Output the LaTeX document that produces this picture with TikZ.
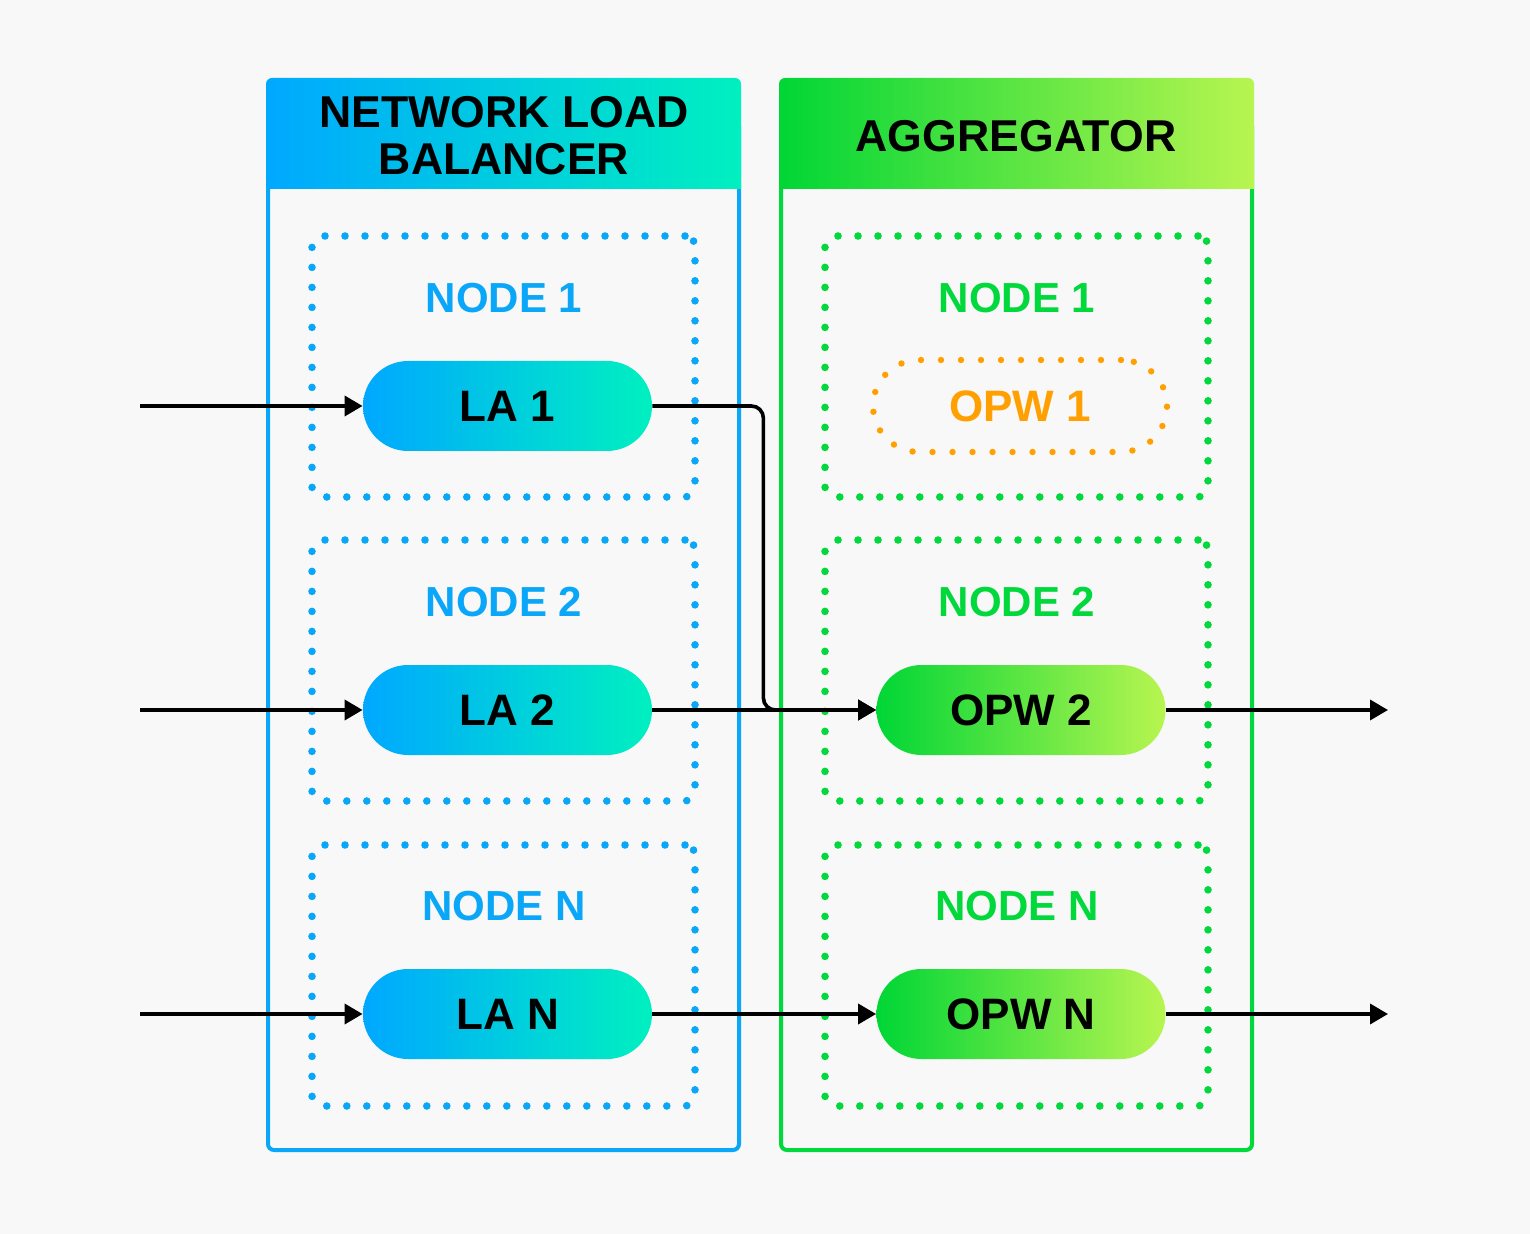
\documentclass[tikz,border=0pt]{standalone}
\usepackage{fontspec}
\setmainfont{Liberation Sans}
\usetikzlibrary{arrows.meta}
\definecolor{bgc}{HTML}{F8F8F8}
\definecolor{lbblue}{HTML}{0AA6F8}
\definecolor{aggreen}{HTML}{00D83C}
\definecolor{opworange}{HTML}{FFA000}
\definecolor{bluel}{HTML}{00A8FF}
\definecolor{bluer}{HTML}{00F0C0}
\definecolor{greenl}{HTML}{00D636}
\definecolor{greenr}{HTML}{B8F550}
\tikzset{
  frame/.style={line width=2pt, rounded corners=3pt},
  dotbox/.style={draw=#1, line width=3.8pt, line cap=round, dash pattern=on 0pt off 10pt,
    rounded corners=5pt, minimum width=191.5pt, minimum height=130.5pt, inner sep=0pt},
  nodelabel/.style={text=#1, font=\fontsize{21}{24}\selectfont\bfseries},
  pillbase/.style={rectangle, rounded corners=22.5pt, minimum width=144.5pt, minimum height=45pt,
    inner sep=0pt, font=\fontsize{22}{26}\selectfont\bfseries, text=black},
  lapill/.style={pillbase, left color=bluel, right color=bluer},
  opwpill/.style={pillbase, left color=greenl, right color=greenr},
  header/.style={font=\fontsize{22.3}{23.5}\selectfont\bfseries, align=center, text=black},
  arr/.style={line width=1.8pt, -{Triangle[length=9pt,width=10pt]}},
}
\begin{document}
\begin{tikzpicture}[x=0.5pt,y=-0.5pt]
\fill[bgc] (0,0) rectangle (1530,1234);
\useasboundingbox (0,0) rectangle (1530,1234);

% Network load balancer container
\draw[lbblue, frame] (268,120) rectangle (739,1150);
\shade[left color=bluel, right color=bluer] (266,189) [rounded corners=3pt] -- (266,78) -- (741,78) [sharp corners] -- (741,189) -- cycle;
\node[header] (nlb) at (504,136) {NETWORK LOAD\\BALANCER};

% Aggregator container
\draw[aggreen, frame] (781,120) rectangle (1252,1150);
\shade[left color=greenl, right color=greenr] (779,189) [rounded corners=3pt] -- (779,78) -- (1254,78) [sharp corners] -- (1254,189) -- cycle;
\node[header] (agg) at (1016,136) {AGGREGATOR};

% dotted node boxes
\node[dotbox=lbblue] (lbn1) at (503.5,366.5) {};
\node[dotbox=lbblue] (lbn2) at (503.5,670.5) {};
\node[dotbox=lbblue] (lbn3) at (503.5,975.5) {};
\node[dotbox=aggreen] (agn1) at (1016.5,366.5) {};
\node[dotbox=aggreen] (agn2) at (1016.5,670.5) {};
\node[dotbox=aggreen] (agn3) at (1016.5,975.5) {};

% node labels
\node[nodelabel=lbblue] (lbl1) at (504,298) {NODE 1};
\node[nodelabel=lbblue] (lbl2) at (504,602) {NODE 2};
\node[nodelabel=lbblue] (lbl3) at (504,906) {NODE N};
\node[nodelabel=aggreen] (agl1) at (1017,298) {NODE 1};
\node[nodelabel=aggreen] (agl2) at (1017,602) {NODE 2};
\node[nodelabel=aggreen] (agl3) at (1017,906) {NODE N};

% pills
\node[lapill] (la1) at (507.5,406) {LA 1};
\node[lapill] (la2) at (507.5,710) {LA 2};
\node[lapill] (la3) at (507.5,1014) {LA N};
\node[pillbase, draw=opworange, line width=3.2pt, line cap=round, dash pattern=on 0pt off 10pt,
  minimum width=147pt, minimum height=46pt, rounded corners=23pt, text=opworange] (opw1) at (1020,406) {OPW 1};
\node[opwpill] (opw2) at (1021,710) {OPW 2};
\node[opwpill] (opw3) at (1021,1014) {OPW N};

% inputs / outputs
\coordinate (in1) at (140,406);
\coordinate (in2) at (140,710);
\coordinate (in3) at (140,1014);
\coordinate (out2) at (1388,710);
\coordinate (out3) at (1388,1014);

\draw[arr] (in1) -- (la1);
\draw[arr] (in2) -- (la2);
\draw[arr] (in3) -- (la3);
\draw[arr, rounded corners=6pt] (la1.east) -- ++(111,0) |- (opw2.west);
\draw[arr] (la2) -- (opw2);
\draw[arr] (la3) -- (opw3);
\draw[arr] (opw2) -- (out2);
\draw[arr] (opw3) -- (out3);
\end{tikzpicture}
\end{document}
